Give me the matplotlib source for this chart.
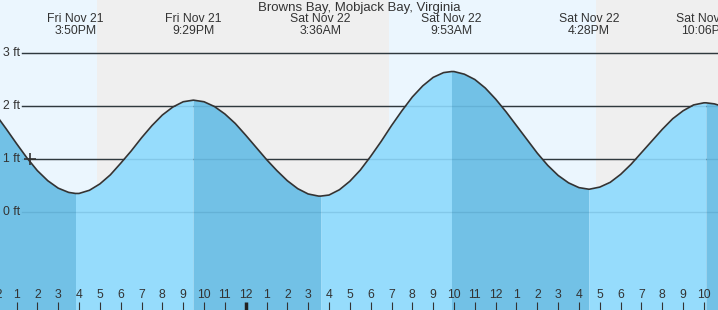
import numpy as np
import matplotlib
matplotlib.use("Agg")
import matplotlib.pyplot as plt

plt.rcParams['font.family'] = ['Liberation Sans', 'DejaVu Sans']

# time is in hours from Fri Nov 21 00:00
title = "Browns Bay, Mobjack Bay, Virginia"

# tide height (ft) every half hour, 12:00 Fri .. 23:00 Sat
sample_start = 12.0
sample_step = 0.5
heights = [1.84, 1.57, 1.29, 1.02, 0.78, 0.59, 0.45, 0.37,
           0.35, 0.41, 0.53, 0.70, 0.92, 1.15, 1.40, 1.63, 1.83, 1.98, 2.08,
           2.11, 2.08, 1.99, 1.85, 1.67, 1.45, 1.22, 0.99, 0.78, 0.59, 0.44, 0.34, 0.30,
           0.32, 0.42, 0.58, 0.79, 1.05, 1.33, 1.63, 1.91, 2.17, 2.38, 2.54, 2.63,
           2.65, 2.60, 2.50, 2.34, 2.13, 1.89, 1.63, 1.37, 1.11, 0.88, 0.69, 0.55, 0.46,
           0.43, 0.47, 0.56, 0.71, 0.90, 1.12, 1.34, 1.56, 1.76, 1.91, 2.02, 2.06,
           2.04, 1.98]

# high / low tides shown on top of the chart
event_times = [15.83, 21.48, 27.60, 33.88, 40.47, 46.10]
event_heights = [0.35, 2.11, 0.30, 2.65, 0.43, 2.06]
event_days = ["Fri Nov 21", "Fri Nov 21", "Sat Nov 22", "Sat Nov 22", "Sat Nov 22", "Sat Nov 22"]
event_clock = ["3:50PM", "9:29PM", "3:36AM", "9:53AM", "4:28PM", "10:06PM"]

# sunset / sunrise
night_spans = [(16.85, 30.88), (40.80, 50.0)]

now_time = 13.65
now_height = 1.0

grid_levels = [0, 1, 2, 3]
grid_labels = ["0 ft", "1 ft", "2 ft", "3 ft"]

hours = list(range(12, 47))

W, H = 718, 310
x0, x1 = 12.205, 46.674
y0, y1 = -1.849, 4.0

day_col = '#ebf6fe'
night_col = '#efefef'
light_water = '#96dcfc'
dark_water = '#72c1e6'
ink = '#333333'

fig = plt.figure(figsize=(W / 100, H / 100), dpi=100)
ax = fig.add_axes([0, 0, 1, 1])
ax.set_xlim(x0, x1)
ax.set_ylim(y0, y1)
ax.axis('off')

# background day / night
ax.axvspan(x0, x1, color=day_col, zorder=0, lw=0)
for a, b in night_spans:
    ax.axvspan(a, b, color=night_col, zorder=0, lw=0)

# combine half hour samples with the tide extremes
t = sample_start + sample_step * np.arange(len(heights))
tt = np.concatenate([t, event_times])
hh = np.concatenate([heights, event_heights])
order = np.argsort(tt)
tt = tt[order]
hh = hh[order]

# grid lines (dark over background)
gx = 22 / W
for lev, lab in zip(grid_levels, grid_labels):
    if lev > 0:
        ax.axhline(lev, xmin=gx, xmax=1, color=ink, lw=1.0, zorder=1)
    ax.text(gx - 2 / W, lev, lab, transform=ax.get_yaxis_transform(),
            ha='right', va='center', fontsize=8.8, color=ink)

# water: falling tide darker, rising tide lighter
bounds = [x0 - 1] + event_times + [x1 + 1]
for i in range(len(bounds) - 1):
    a, b = bounds[i], bounds[i + 1]
    m = (tt >= a) & (tt <= b)
    if i == 0:
        col = dark_water
    else:
        col = dark_water if event_heights[i - 1] > 1.2 else light_water
    ax.fill_between(tt[m], hh[m], y0, color=col, lw=0, zorder=2)

# faint grid lines over the water
for lev in grid_levels:
    ax.axhline(lev, xmin=gx, xmax=1, color='#1a5c80', alpha=0.15, lw=1.0, zorder=3)

ax.plot(tt, hh, color=ink, lw=1.2, zorder=4)
ax.plot([now_time], [now_height], marker='+', ms=8, mew=1.2, color=ink, zorder=5)

# texts on top
ax.text(0.5, 1 - 7.5 / H, title, transform=ax.transAxes, ha='center', va='center',
        fontsize=9.5, color=ink)
for et, d, c in zip(event_times, event_days, event_clock):
    ax.text(et, 1 - 19.5 / H, d, transform=ax.get_xaxis_transform(), ha='center',
            va='center', fontsize=8.8, color=ink)
    ax.text(et, 1 - 31.5 / H, c, transform=ax.get_xaxis_transform(), ha='center',
            va='center', fontsize=8.8, color=ink)

# hour ticks along the bottom
for h in hours:
    lab = str(h % 12 if h % 12 else 12)
    if h == 24:
        ax.vlines(h, 0, 8 / H, transform=ax.get_xaxis_transform(), color='#222222', lw=2.5, zorder=6)
    else:
        ax.vlines(h, 0, 8 / H, transform=ax.get_xaxis_transform(), color=ink, lw=0.8, zorder=6)
    ax.text(h, 14.5 / H, lab, transform=ax.get_xaxis_transform(), ha='center',
            va='center', fontsize=8.8, color=ink, zorder=6)

fig.savefig("out.png", dpi=100)
